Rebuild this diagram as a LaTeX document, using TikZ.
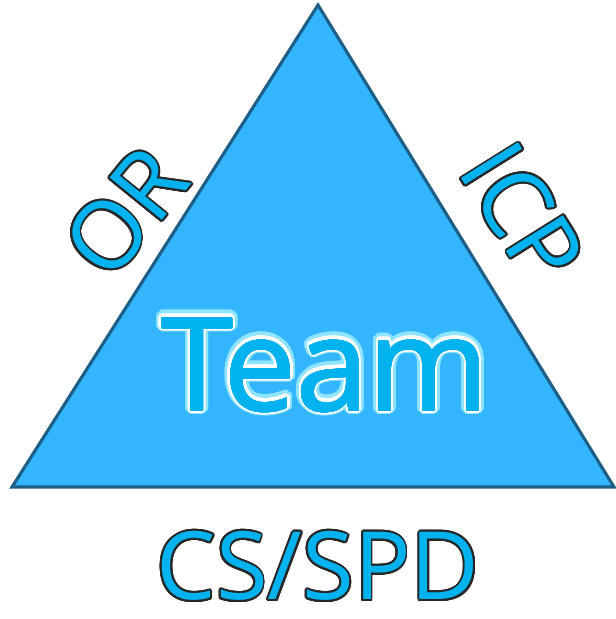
\documentclass[tikz,border=0pt]{standalone}
\usepackage{fontspec}
\setmainfont{Open Sans}
\usepackage[copies]{contour}
\usepackage{tikz}
\usetikzlibrary{positioning}
\definecolor{fondo}{HTML}{33B5FF}
\definecolor{borde}{HTML}{1D5E86}
\definecolor{letra}{HTML}{00B2EE}
\definecolor{brillo}{HTML}{8FE4FF}
\contournumber{24}
\newcommand{\rotulo}[1]{\contourlength{1.3pt}\contour{black!85}{\textcolor{letra}{#1}}}
\newcommand{\relleno}[1]{\contourlength{0.6pt}\contour{letra}{\textcolor{letra}{#1}}}
\newcommand{\halo}[1]{\contourlength{4.3pt}\contour{brillo}{\textcolor{brillo}{#1}}}
\newcommand{\blanco}[1]{\contourlength{2.4pt}\contour{white}{\textcolor{white}{#1}}}
\tikzset{
	x=0.025cm, y=-0.025cm, % Un pixel de la imagen
	lado/.style={draw=borde, line width=2.2pt, fill=fondo, line join=miter}, % Triangulo
	etiqueta/.style={inner sep=0pt, font=\fontsize{67}{70}\selectfont}, % Textos exteriores
	centro/.style={inner sep=0pt, font=\fontsize{92}{96}\selectfont} % Texto central
}

\begin{document}
\begin{tikzpicture}
	\useasboundingbox (0,0) rectangle (616,619);
	\coordinate (a) at (318,5);
	\coordinate (b) at (12,487);
	\coordinate (c) at (614,487);
	\draw[lado] (a) -- (b) -- (c) -- cycle;
	% texto central con brillo
	\node[centro] (glow) at (325,366) {\halo{Team}};
	\node[centro] (edge) at (glow) {\blanco{Team}};
	\node[centro] (team) at (glow) {\relleno{Team}};
	% textos de los lados
	\node[etiqueta, rotate=51] (or) at (126,213) {\rotulo{OR}};
	\node[etiqueta, rotate=-58] (icp) at (522,214) {\rotulo{ICP}};
	\node[etiqueta] (cs) at (318,567) {\rotulo{CS/SPD}};
\end{tikzpicture}
\end{document}
